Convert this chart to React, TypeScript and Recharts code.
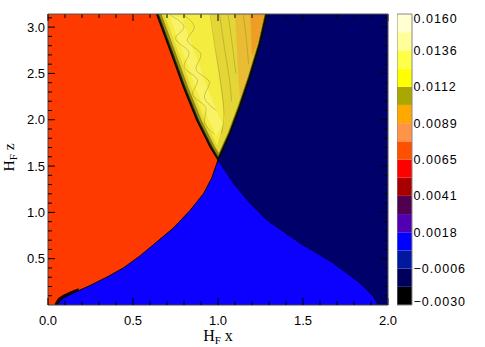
import { Area, ComposedChart, Line, Scatter, XAxis, YAxis } from 'recharts'

document.body.style.margin = '0'

const Z_MAX = 3.1416

const xTicks = [0, 0.5, 1, 1.5, 2]
const zTicks = [0.5, 1, 1.5, 2, 2.5, 3]
const xMinorTicks = [0.1, 0.2, 0.3, 0.4, 0.6, 0.7, 0.8, 0.9, 1.1, 1.2, 1.3, 1.4, 1.6, 1.7, 1.8, 1.9]
const zMinorTicks = [
  0.1, 0.2, 0.3, 0.4, 0.6, 0.7, 0.8, 0.9, 1.1, 1.2, 1.3, 1.4, 1.6, 1.7, 1.8, 1.9, 2.1, 2.2, 2.3, 2.4, 2.6,
  2.7, 2.8, 2.9, 3.1,
]

// top of the blue region: orange|blue on the left, blue|navy on the right
const blueX = [
  0.055, 0.07, 0.09, 0.149, 0.247, 0.345, 0.443, 0.541, 0.639, 0.737, 0.835, 0.914, 0.963, 1.0, 1.09, 1.188,
  1.286, 1.482, 1.678, 1.835, 1.914, 1.943,
]
const blueTop = [
  0, 0.04, 0.076, 0.13, 0.21, 0.3, 0.4, 0.53, 0.68, 0.83, 1.02, 1.2, 1.37, 1.567, 1.316, 1.1, 0.92, 0.669,
  0.454, 0.238, 0.094, 0,
]

// dark smear at the foot of the orange|blue edge
const darkX = [0.04, 0.06, 0.09, 0.13, 0.18]
const darkLow = [0, 0, 0.02, 0.08, 0.14]
const darkHigh = [0.015, 0.075, 0.11, 0.145, 0.18]

// yellow fan opening upward from (1, pi/2)
const fanX = [0.639, 0.718, 0.796, 0.875, 0.953, 1.0, 1.02, 1.071, 1.129, 1.188, 1.247, 1.286]
const fanLow = [Z_MAX, 2.75, 2.357, 1.998, 1.71, 1.567, 1.64, 1.855, 2.141, 2.464, 2.824, Z_MAX]
const oliveX = [0.651, 0.73, 0.808, 0.887, 0.965, 1.001, 1.063, 1.121, 1.18, 1.239, 1.278]
const oliveLow = [Z_MAX, 2.75, 2.357, 1.998, 1.71, 1.6, 1.855, 2.141, 2.464, 2.824, Z_MAX]
const goldX = [0.667, 0.746, 0.824, 0.903, 0.981, 1.005, 1.057, 1.115, 1.174, 1.233, 1.272]
const goldLow = [Z_MAX, 2.75, 2.357, 1.998, 1.71, 1.64, 1.855, 2.141, 2.464, 2.824, Z_MAX]
const brightX = [0.684, 0.763, 0.841, 0.92, 0.96, 0.995, 1.04]
const brightLow = [Z_MAX, 2.75, 2.357, 1.998, 1.85, 1.72, 2.0]
const brightHigh = [Z_MAX, Z_MAX, Z_MAX, Z_MAX, Z_MAX, 2.64, 2.0]
const paleX = [0.709, 0.788, 0.866, 0.945, 0.99, 1.03]
const paleLow = [Z_MAX, 2.75, 2.357, 1.998, 1.83, 1.95]
const paleHigh = [Z_MAX, 3.1, 2.71, 2.31, 2.11, 1.95]
const amberX = [1.1, 1.12, 1.13, 1.174, 1.233, 1.272]
const amberLow = [Z_MAX, 2.43, 2.23, 2.464, 2.824, Z_MAX]
const rimX = [1.19, 1.2, 1.233, 1.272]
const rimLow = [Z_MAX, 2.68, 2.824, Z_MAX]

// contour lines inside the fan
const contours = [
  [[0.72, 3.13], [0.8, 3.0], [0.75, 2.88], [0.83, 2.72], [0.8, 2.58], [0.88, 2.42], [0.85, 2.28], [0.93, 2.12], [0.92, 1.98], [0.975, 1.85]],
  [[0.8, 3.13], [0.86, 3.0], [0.82, 2.86], [0.9, 2.7], [0.87, 2.55], [0.95, 2.4], [0.92, 2.25], [0.99, 2.1]],
  [[0.955, 3.13], [0.985, 2.75], [1.02, 2.35], [1.035, 2.05], [1.02, 1.85]],
  [[1.01, 3.13], [1.04, 2.75], [1.07, 2.4], [1.08, 2.2]],
  [[1.06, 3.13], [1.085, 2.8], [1.105, 2.5]],
  [[1.15, 3.13], [1.165, 2.9], [1.18, 2.6]],
]

// colour bar
const levels = [
  -0.003, -0.0018125, -0.000625, 0.0005625, 0.00175, 0.0029375, 0.004125, 0.0053125, 0.0065, 0.0076875,
  0.008875, 0.0100625, 0.01125, 0.0124375, 0.013625, 0.0148125, 0.016,
]
const levelColors = [
  '#000000', '#00005c', '#0018a0', '#0000ff', '#5000b0', '#500050', '#a80000', '#ff0000', '#ff5000', '#ff9448',
  '#ffa800', '#a8a800', '#ffff00', '#ffff48', '#ffff99', '#ffffd0',
]
const labelLevels = [-0.003, -0.000625, 0.00175, 0.004125, 0.0065, 0.008875, 0.01125, 0.013625, 0.016]
const labelTexts = ['\u22120.0030', '\u22120.0006', '0.0018', '0.0041', '0.0065', '0.0089', '0.0112', '0.0136', '0.0160']

const sans = '"Liberation Sans", Arial, sans-serif'
const serif = '"Liberation Serif", "Times New Roman", serif'

const band = (xs: number[], lo: number[], hi?: number[]) =>
  xs.map((x, i) => ({ x, band: [lo[i], hi ? hi[i] : Z_MAX] }))
const pts = (xs: number[], zs: number[]) => xs.map((x, i) => ({ x, z: zs[i] }))

const blueLeft = pts(blueX, blueTop).filter((p) => p.x <= 1)
const blueRight = pts(blueX, blueTop).filter((p) => p.x >= 1)

const noShape = () => <g />
const tickShape = (dx: number, dy: number) => (p: any) =>
  <line x1={p.cx} y1={p.cy} x2={p.cx + dx} y2={p.cy + dy} stroke="#000" strokeWidth={1} />

function XTickLabel(props: any) {
  const { x, y, payload } = props
  return (
    <text x={x} y={y + 20} textAnchor="middle" fontSize={13} fontFamily={sans} fill="#000">
      {payload.value.toFixed(1)}
    </text>
  )
}

function ZTickLabel(props: any) {
  const { x, y, payload } = props
  return (
    <text x={x} y={y + 4.5} textAnchor="end" fontSize={13} fontFamily={sans} fill="#000">
      {payload.value.toFixed(1)}
    </text>
  )
}

function LevelTickLabel(props: any) {
  const { x, y, payload } = props
  const i = labelLevels.indexOf(payload.value)
  const nudge = i === labelLevels.length - 1 ? 4 : i === 0 ? -4 : 0
  return (
    <text x={x} y={y + 4.5 + nudge} textAnchor="start" fontSize={12.5} letterSpacing={1} fontFamily={sans} fill="#000">
      {labelTexts[i]}
    </text>
  )
}

function XTitle(props: any) {
  const vb = props.viewBox || { x: 48, y: 305, width: 340 }
  return (
    <text x={vb.x + vb.width / 2} y={vb.y + 36} textAnchor="middle" fontSize={16} fontFamily={serif} fill="#000">
      H<tspan fontSize={11} dy={3}>F</tspan>
      <tspan dy={-3}> x</tspan>
    </text>
  )
}

function ZTitle(props: any) {
  const vb = props.viewBox || { x: 0, y: 14, height: 291 }
  const cx = vb.x + 13.5
  const cy = vb.y + vb.height / 2 - 2
  return (
    <text x={cx} y={cy} transform={`rotate(-90 ${cx} ${cy})`} textAnchor="middle" fontSize={15.5} fontFamily={serif} fill="#000">
      H<tspan fontSize={11} dy={3}>F</tspan>
      <tspan dy={-3}> z</tspan>
    </text>
  )
}

const frame = { stroke: '#444', strokeWidth: 1 }

export default function App() {
  return (
    <div style={{ position: 'relative', width: 485, height: 347, background: '#fff' }}>
      <ComposedChart width={485} height={347} margin={{ top: 14, right: 97, bottom: 0, left: 0 }}>
        <XAxis
          type="number"
          dataKey="x"
          domain={[0, 2]}
          ticks={xTicks}
          interval={0}
          height={42}
          tickSize={0}
          tickMargin={0}
          tickLine={false}
          axisLine={frame}
          tick={<XTickLabel />}
          label={<XTitle />}
        />
        <YAxis
          type="number"
          dataKey="z"
          domain={[0, Z_MAX]}
          ticks={zTicks}
          interval={0}
          width={48}
          tickSize={0}
          tickMargin={3}
          tickLine={false}
          axisLine={frame}
          tick={<ZTickLabel />}
          label={<ZTitle />}
        />

        <Area data={band([0, 2], [0, 0])} dataKey="band" type="linear" fill="#ff3a00" fillOpacity={1} stroke="none" isAnimationActive={false} />
        <Area data={band([1, 2], [0, 0])} dataKey="band" type="linear" fill="#00006a" fillOpacity={1} stroke="none" isAnimationActive={false} />
        <Area data={band(darkX, darkLow, darkHigh)} dataKey="band" type="linear" fill="#140500" fillOpacity={1} stroke="none" isAnimationActive={false} />
        <Area data={blueX.map((x, i) => ({ x, band: [0, blueTop[i]] }))} dataKey="band" type="linear" fill="#0c00ff" fillOpacity={1} stroke="none" isAnimationActive={false} />

        <Area data={band(fanX, fanLow)} dataKey="band" type="linear" fill="#262400" fillOpacity={1} stroke="none" isAnimationActive={false} />
        <Area data={band(oliveX, oliveLow)} dataKey="band" type="linear" fill="#8e8a14" fillOpacity={1} stroke="none" isAnimationActive={false} />
        <Area data={band(goldX, goldLow)} dataKey="band" type="linear" fill="#e4d636" fillOpacity={1} stroke="none" isAnimationActive={false} />
        <Area data={band(brightX, brightLow, brightHigh)} dataKey="band" type="linear" fill="#f4ec3e" fillOpacity={1} stroke="none" isAnimationActive={false} />
        <Area data={band(paleX, paleLow, paleHigh)} dataKey="band" type="linear" fill="#f8f264" fillOpacity={1} stroke="none" isAnimationActive={false} />
        <Area data={band(amberX, amberLow)} dataKey="band" type="linear" fill="#e9bc34" fillOpacity={1} stroke="none" isAnimationActive={false} />
        <Area data={band(rimX, rimLow)} dataKey="band" type="linear" fill="#ee9e24" fillOpacity={1} stroke="none" isAnimationActive={false} />

        {contours.map((c, i) => (
          <Scatter
            key={i}
            data={c.map(([x, z]) => ({ x, z }))}
            fill="#8a8420"
            line={{ stroke: '#8c8628', strokeWidth: 0.6, strokeOpacity: 0.7 }}
            lineJointType="monotoneY"
            shape={noShape}
            isAnimationActive={false}
          />
        ))}

        <Line data={blueLeft} dataKey="z" type="linear" stroke="#150000" strokeWidth={1} dot={false} isAnimationActive={false} />
        <Line data={blueRight} dataKey="z" type="linear" stroke="#000040" strokeWidth={1} dot={false} isAnimationActive={false} />
        <Line data={pts(fanX, fanLow)} dataKey="z" type="linear" stroke="#0a0a00" strokeWidth={1.4} dot={false} isAnimationActive={false} />

        {/* inward tick marks and the top/right frame */}
        <Scatter data={xMinorTicks.map((x) => ({ x, z: 0 }))} shape={tickShape(0, -4)} isAnimationActive={false} />
        <Scatter data={xTicks.map((x) => ({ x, z: 0 }))} shape={tickShape(0, -7)} isAnimationActive={false} />
        <Scatter data={xMinorTicks.map((x) => ({ x, z: Z_MAX }))} shape={tickShape(0, 4)} isAnimationActive={false} />
        <Scatter data={xTicks.map((x) => ({ x, z: Z_MAX }))} shape={tickShape(0, 7)} isAnimationActive={false} />
        <Scatter data={zMinorTicks.map((z) => ({ x: 0, z }))} shape={tickShape(4, 0)} isAnimationActive={false} />
        <Scatter data={zTicks.map((z) => ({ x: 0, z }))} shape={tickShape(7, 0)} isAnimationActive={false} />
        <Scatter data={zMinorTicks.map((z) => ({ x: 2, z }))} shape={tickShape(-4, 0)} isAnimationActive={false} />
        <Scatter data={zTicks.map((z) => ({ x: 2, z }))} shape={tickShape(-7, 0)} isAnimationActive={false} />
        <Scatter
          data={[{ x: 0, z: Z_MAX }, { x: 2, z: Z_MAX }, { x: 2, z: 0 }]}
          line={{ stroke: '#555', strokeWidth: 1 }}
          lineJointType="linear"
          shape={noShape}
          isAnimationActive={false}
        />
      </ComposedChart>

      <div style={{ position: 'absolute', left: 397, top: 0 }}>
        <ComposedChart width={88} height={347} margin={{ top: 14, right: 0, bottom: 42, left: 0 }}>
          <XAxis type="number" dataKey="x" domain={[0, 1]} hide />
          <YAxis
            type="number"
            dataKey="v"
            domain={[-0.003, 0.016]}
            ticks={labelLevels}
            interval={0}
            orientation="right"
            width={73}
            tickSize={0}
            tickMargin={1.5}
            tickLine={false}
            axisLine={false}
            tick={<LevelTickLabel />}
          />
          {levelColors.map((c, i) => (
            <Area
              key={i}
              data={[{ x: 0, band: [levels[i], levels[i + 1]] }, { x: 1, band: [levels[i], levels[i + 1]] }]}
              dataKey="band"
              type="linear"
              fill={c}
              fillOpacity={1}
              stroke="none"
              isAnimationActive={false}
            />
          ))}
          <Scatter
            data={[
              { x: 0, v: levels[0] },
              { x: 1, v: levels[0] },
              { x: 1, v: levels[16] },
              { x: 0, v: levels[16] },
              { x: 0, v: levels[0] },
            ]}
            line={{ stroke: '#888', strokeWidth: 1 }}
            lineJointType="linear"
            shape={noShape}
            isAnimationActive={false}
          />
        </ComposedChart>
      </div>
    </div>
  )
}
